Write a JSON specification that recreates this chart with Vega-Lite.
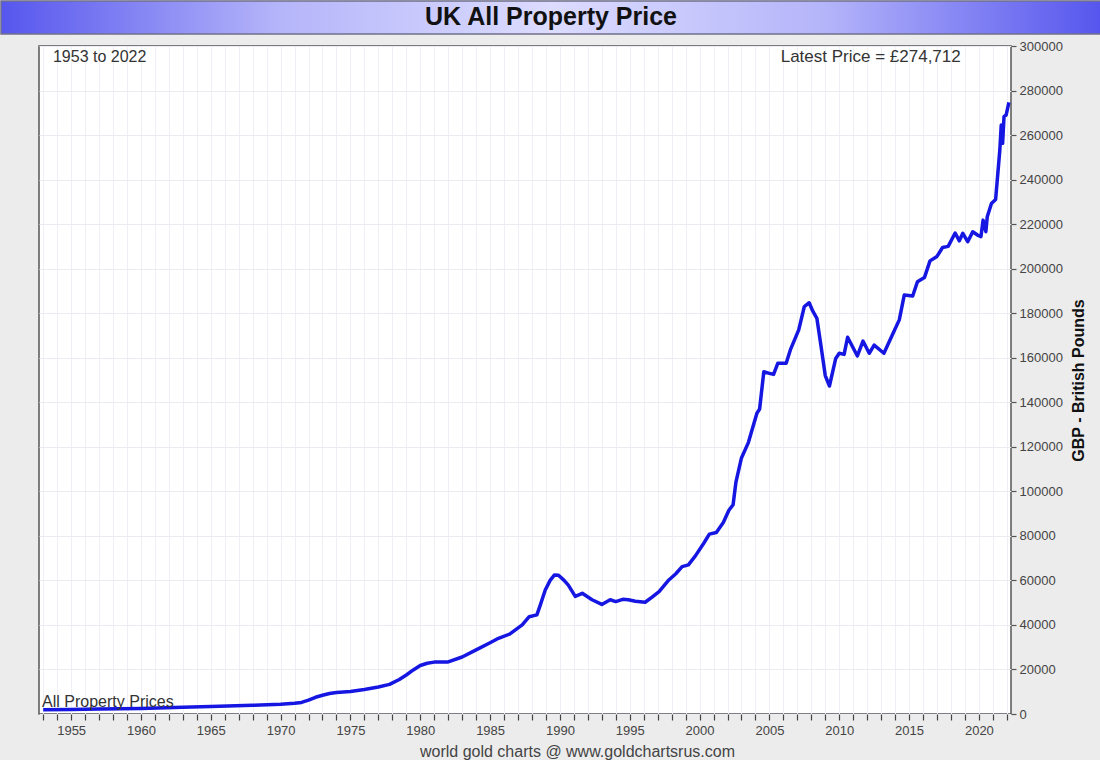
{
  "$schema": "https://vega.github.io/schema/vega-lite/v6.json",
  "background": "#ececec",
  "padding": 0,
  "spacing": 4,
  "config": {
    "font": "Liberation Sans",
    "view": {"stroke": null},
    "concat": {"spacing": 0}
  },
  "vconcat": [
    {
      "width": 1100,
      "height": 33,
      "view": {
        "fill": {"gradient": "linear", "x1": 0, "y1": 0, "x2": 1, "y2": 0,
          "stops": [
            {"offset": 0, "color": "#5656ee"},
            {"offset": 0.25, "color": "#b4b4fa"},
            {"offset": 0.5, "color": "#dcdcff"},
            {"offset": 0.75, "color": "#b4b4fa"},
            {"offset": 1, "color": "#5656ee"}
          ]},
        "stroke": "#70708a",
        "strokeWidth": 1.5
      },
      "data": {"values": [{"t": "UK All Property Price"}]},
      "mark": {"type": "text", "fontSize": 25, "fontWeight": "bold", "color": "#111", "baseline": "middle", "align": "center", "dy": -1},
      "encoding": {"text": {"field": "t", "type": "nominal"}}
    },
    {
      "hconcat": [
        {
          "width": 37,
          "height": 668,
          "data": {"values": [{"t": ""}]},
          "mark": {"type": "text"},
          "encoding": {"text": {"field": "t", "type": "nominal"}}
        },
        {
          "width": 972,
          "height": 668,
          "view": {"stroke": "#555", "strokeWidth": 1.5, "fill": "white"},
          "data": {"values": [
            {"year": 1953.0, "price": 1900},
            {"year": 1955.0, "price": 2000},
            {"year": 1957.0, "price": 2200},
            {"year": 1960.0, "price": 2500},
            {"year": 1963.0, "price": 3000},
            {"year": 1965.0, "price": 3400},
            {"year": 1968.0, "price": 3900},
            {"year": 1970.0, "price": 4400},
            {"year": 1971.0, "price": 4800},
            {"year": 1971.5, "price": 5200},
            {"year": 1972.0, "price": 6200},
            {"year": 1972.5, "price": 7500},
            {"year": 1973.0, "price": 8400},
            {"year": 1973.5, "price": 9200},
            {"year": 1974.0, "price": 9700},
            {"year": 1975.0, "price": 10100},
            {"year": 1976.0, "price": 11000},
            {"year": 1977.0, "price": 12100},
            {"year": 1977.8, "price": 13300},
            {"year": 1978.5, "price": 15500},
            {"year": 1979.0, "price": 17500},
            {"year": 1979.5, "price": 19800},
            {"year": 1980.0, "price": 21800},
            {"year": 1980.5, "price": 22800},
            {"year": 1981.0, "price": 23300},
            {"year": 1982.0, "price": 23400},
            {"year": 1983.0, "price": 25600},
            {"year": 1984.0, "price": 28800},
            {"year": 1985.0, "price": 32000},
            {"year": 1985.6, "price": 34000},
            {"year": 1986.4, "price": 35900},
            {"year": 1987.3, "price": 40000},
            {"year": 1987.8, "price": 43700},
            {"year": 1988.35, "price": 44500},
            {"year": 1988.6, "price": 49000},
            {"year": 1988.95, "price": 55700},
            {"year": 1989.3, "price": 60000},
            {"year": 1989.6, "price": 62400},
            {"year": 1989.9, "price": 62300},
            {"year": 1990.3, "price": 60000},
            {"year": 1990.6, "price": 57900},
            {"year": 1991.1, "price": 52800},
            {"year": 1991.6, "price": 54200},
            {"year": 1992.3, "price": 51300},
            {"year": 1993.0, "price": 49200},
            {"year": 1993.6, "price": 51300},
            {"year": 1994.0, "price": 50500},
            {"year": 1994.5, "price": 51500},
            {"year": 1994.9, "price": 51300},
            {"year": 1995.4, "price": 50600},
            {"year": 1996.1, "price": 50200},
            {"year": 1996.6, "price": 52500},
            {"year": 1997.1, "price": 55000},
            {"year": 1997.8, "price": 60200},
            {"year": 1998.3, "price": 63000},
            {"year": 1998.75, "price": 66200},
            {"year": 1999.2, "price": 67000},
            {"year": 1999.7, "price": 71000},
            {"year": 2000.3, "price": 76700},
            {"year": 2000.7, "price": 80800},
            {"year": 2001.2, "price": 81500},
            {"year": 2001.7, "price": 86000},
            {"year": 2002.1, "price": 91500},
            {"year": 2002.4, "price": 94000},
            {"year": 2002.6, "price": 104000},
            {"year": 2003.0, "price": 115000},
            {"year": 2003.5, "price": 122000},
            {"year": 2004.1, "price": 135000},
            {"year": 2004.3, "price": 137000},
            {"year": 2004.6, "price": 153700},
            {"year": 2005.0, "price": 153000},
            {"year": 2005.3, "price": 152500},
            {"year": 2005.6, "price": 157500},
            {"year": 2006.2, "price": 157500},
            {"year": 2006.5, "price": 163500},
            {"year": 2007.1, "price": 172500},
            {"year": 2007.5, "price": 183000},
            {"year": 2007.85, "price": 184700},
            {"year": 2008.1, "price": 181000},
            {"year": 2008.4, "price": 177700},
            {"year": 2008.7, "price": 165000},
            {"year": 2009.0, "price": 152000},
            {"year": 2009.3, "price": 147300},
            {"year": 2009.75, "price": 159700},
            {"year": 2010.0, "price": 162000},
            {"year": 2010.35, "price": 161500},
            {"year": 2010.6, "price": 169200},
            {"year": 2011.3, "price": 160800},
            {"year": 2011.7, "price": 167500},
            {"year": 2012.15, "price": 162000},
            {"year": 2012.5, "price": 165700},
            {"year": 2013.2, "price": 162000},
            {"year": 2013.8, "price": 170200},
            {"year": 2014.3, "price": 177000},
            {"year": 2014.66, "price": 188200},
            {"year": 2015.26, "price": 187700},
            {"year": 2015.6, "price": 194100},
            {"year": 2016.1, "price": 196000},
            {"year": 2016.5, "price": 203500},
            {"year": 2017.0, "price": 205500},
            {"year": 2017.4, "price": 209500},
            {"year": 2017.8, "price": 210000},
            {"year": 2018.3, "price": 216000},
            {"year": 2018.6, "price": 212500},
            {"year": 2018.85, "price": 215900},
            {"year": 2019.2, "price": 212100},
            {"year": 2019.56, "price": 216600},
            {"year": 2019.9, "price": 215100},
            {"year": 2020.15, "price": 214400},
            {"year": 2020.3, "price": 221800},
            {"year": 2020.5, "price": 216600},
            {"year": 2020.6, "price": 223300},
            {"year": 2020.9, "price": 229300},
            {"year": 2021.2, "price": 231100},
            {"year": 2021.5, "price": 253300},
            {"year": 2021.6, "price": 264500},
            {"year": 2021.7, "price": 256300},
            {"year": 2021.8, "price": 268300},
            {"year": 2021.95, "price": 269000},
            {"year": 2022.15, "price": 274712}
          ]},
          "layer": [
            {
              "mark": {"type": "line", "color": "#1616e2", "strokeWidth": 3.5, "strokeJoin": "round"},
              "encoding": {
                "x": {
                  "field": "year", "type": "quantitative",
                  "scale": {"domain": [1952.7, 2022.3], "nice": false, "zero": false},
                  "axis": {
                    "orient": "bottom",
                    "values": [1953,1954,1955,1956,1957,1958,1959,1960,1961,1962,1963,1964,1965,1966,1967,1968,1969,1970,1971,1972,1973,1974,1975,1976,1977,1978,1979,1980,1981,1982,1983,1984,1985,1986,1987,1988,1989,1990,1991,1992,1993,1994,1995,1996,1997,1998,1999,2000,2001,2002,2003,2004,2005,2006,2007,2008,2009,2010,2011,2012,2013,2014,2015,2016,2017,2018,2019,2020,2021,2022],
                    "tickCount": 200,
                    "format": "d",
                    "labelExpr": "datum.value % 5 === 0 ? datum.label : ''",
                    "labelOverlap": false,
                    "labelFontSize": 13,
                    "labelColor": "#444",
                    "labelPadding": 4,
                    "tickSize": 6,
                    "tickColor": "#444",
                    "tickWidth": 1.2,
                    "domain": false,
                    "grid": true,
                    "gridColor": "#eef0f5",
                    "gridWidth": 1,
                    "title": "world gold charts @ www.goldchartsrus.com",
                    "titleFontSize": 16,
                    "titleFontWeight": "normal",
                    "titleColor": "#444",
                    "titlePadding": 6,
                    "titleX": 538,
                    "titleAnchor": "middle"
                  }
                },
                "y": {
                  "field": "price", "type": "quantitative",
                  "scale": {"domain": [0, 300000], "nice": false},
                  "axis": {
                    "orient": "right",
                    "values": [0,20000,40000,60000,80000,100000,120000,140000,160000,180000,200000,220000,240000,260000,280000,300000],
                    "tickCount": 50,
                    "format": "d",
                    "labelFontSize": 13,
                    "labelColor": "#444",
                    "labelPadding": 3,
                    "tickSize": 5,
                    "tickColor": "#555",
                    "tickWidth": 1.2,
                    "domain": false,
                    "grid": true,
                    "gridColor": "#eaecf2",
                    "gridWidth": 1,
                    "title": "GBP - British Pounds",
                    "titleFontSize": 16,
                    "titleFontWeight": "bold",
                    "titleColor": "#111",
                    "titleAngle": -90,
                    "titleBaseline": "top",
                    "titlePadding": 8
                  }
                }
              }
            },
            {
              "data": {"values": [{"label": "1953 to 2022"}]},
              "mark": {"type": "text", "align": "left", "baseline": "middle", "fontSize": 16, "color": "#333"},
              "encoding": {
                "text": {"field": "label", "type": "nominal"},
                "x": {"datum": 1953.7},
                "y": {"datum": 295000}
              }
            },
            {
              "data": {"values": [{"label": "Latest Price = £274,712"}]},
              "mark": {"type": "text", "align": "right", "baseline": "middle", "fontSize": 17, "color": "#333"},
              "encoding": {
                "text": {"field": "label", "type": "nominal"},
                "x": {"datum": 2018.7},
                "y": {"datum": 295000}
              }
            },
            {
              "data": {"values": [{"label": "All Property Prices"}]},
              "mark": {"type": "text", "align": "left", "baseline": "middle", "fontSize": 16, "color": "#333"},
              "encoding": {
                "text": {"field": "label", "type": "nominal"},
                "x": {"datum": 1952.92},
                "y": {"datum": 5400}
              }
            }
          ]
        }
      ]
    }
  ]
}
